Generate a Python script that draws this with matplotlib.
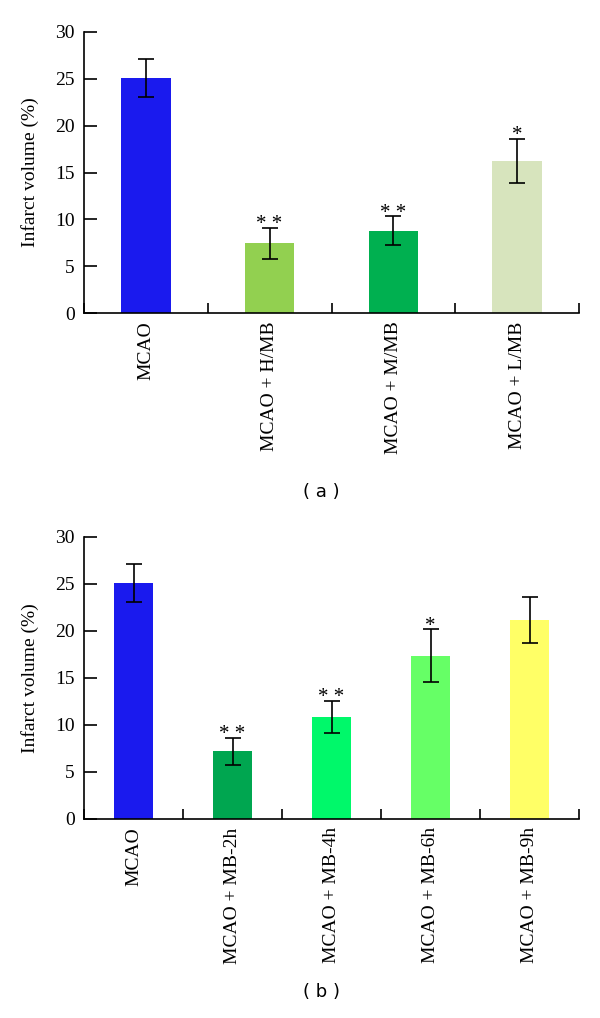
import matplotlib.pyplot as plt
import numpy as np

# Panel (a): dose groups
labels_a = ["MCAO", "MCAO + H/MB", "MCAO + M/MB", "MCAO + L/MB"]
values_a = [25.1, 7.45, 8.8, 16.25]
errors_a = [2.05, 1.65, 1.53, 2.37]
stars_a = ["", "* *", "* *", "*"]
colors_a = ["#1a1aee", "#92d050", "#00b050", "#d7e4bd"]

# Panel (b): time groups
labels_b = ["MCAO", "MCAO + MB-2h", "MCAO + MB-4h", "MCAO + MB-6h", "MCAO + MB-9h"]
values_b = [25.1, 7.18, 10.88, 17.35, 21.15]
errors_b = [2.03, 1.46, 1.69, 2.81, 2.48]
stars_b = ["", "* *", "* *", "*", ""]
colors_b = ["#1a1aee", "#00a650", "#00f86a", "#66ff66", "#ffff66"]

SERIF = ["Liberation Serif", "DejaVu Serif"]

fig = plt.figure(figsize=(6, 10.18), dpi=100)


def draw_panel(ax, labels, values, errors, stars, colors):
    n = len(labels)
    x = np.arange(n)
    ax.bar(x, values, width=0.4, color=colors, zorder=2)
    ax.errorbar(x, values, yerr=errors, fmt="none", ecolor="black",
                elinewidth=1.2, capsize=6, capthick=1.2, zorder=3)
    for xi, v, e, s in zip(x, values, errors, stars):
        if s:
            ax.text(xi, v + e - 0.15, s, ha="center", va="baseline",
                    fontsize=15, family=SERIF)
    ax.set_xlim(-0.5, n - 0.5)
    ax.set_ylim(0, 30)
    ax.set_yticks([0, 5, 10, 15, 20, 25, 30])
    ax.set_xticks(x)
    ax.set_xticklabels(labels, rotation=90, family=SERIF, fontsize=14)
    ax.set_xticks(np.arange(n + 1) - 0.5, minor=True)
    ax.tick_params(axis="x", which="major", length=0, pad=6)
    ax.tick_params(axis="x", which="minor", direction="in", length=7, width=1.2)
    ax.tick_params(axis="y", direction="in", length=9, width=1.2, labelsize=14, pad=6.5)
    for lab in ax.get_yticklabels():
        lab.set_family(SERIF)
    ax.spines["top"].set_visible(False)
    ax.spines["right"].set_visible(False)
    ax.spines["left"].set_linewidth(1.2)
    ax.spines["bottom"].set_linewidth(1.2)
    ax.set_ylabel("Infarct volume (%)", family=SERIF, fontsize=14, labelpad=12)


ax1 = fig.add_axes([0.14, 0.6925, 0.825, 0.2761])
draw_panel(ax1, labels_a, values_a, errors_a, stars_a, colors_a)
ax2 = fig.add_axes([0.14, 0.1955, 0.825, 0.277])
draw_panel(ax2, labels_b, values_b, errors_b, stars_b, colors_b)

fig.text(0.536, 1 - 492 / 1018, "( a )", ha="center", va="center", fontsize=13,
         family="DejaVu Sans")
fig.text(0.536, 1 - 992 / 1018, "( b )", ha="center", va="center", fontsize=13,
         family="DejaVu Sans")

fig.savefig("out.png", dpi=100)
